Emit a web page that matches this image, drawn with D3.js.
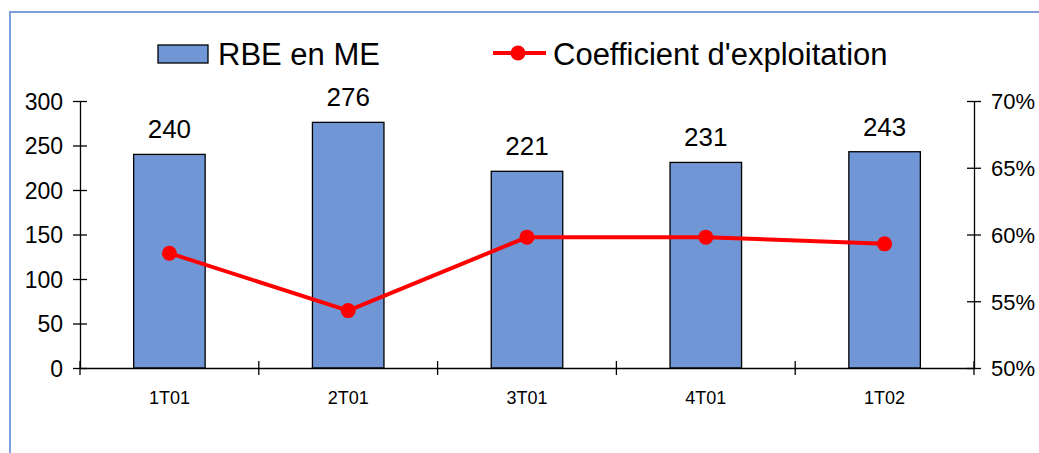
<!DOCTYPE html>
<html><head><meta charset="utf-8">
<script src="https://cdn.jsdelivr.net/npm/d3@7"></script>
<style>body{margin:0;background:#fff;} text{font-family:"Liberation Sans",Arial,sans-serif;}</style>
</head><body><svg id="c" width="1039" height="453"></svg>
<script>
const categories = ["1T01","2T01","3T01","4T01","1T02"];
const rbe = [240,276,221,231,243];
const coef = [58.6,54.3,59.8,59.8,59.3];
const leftTicks = [0,50,100,150,200,250,300];
const rightTicks = [50,55,60,65,70];

const svg = d3.select("#c");
// outer frame
svg.append("path").attr("d","M10,460 L10,12 L1045,12").attr("fill","none").attr("stroke","#7f9fdc").attr("stroke-width",2);

const x0=80, x1=974, yTop=101, yBot=368;
const x = d3.scaleBand().domain(categories).range([x0,x1]);
const yL = d3.scaleLinear().domain([0,300]).range([yBot,yTop]);
const yR = d3.scaleLinear().domain([50,70]).range([yBot,yTop]);
const bw = x.bandwidth()*0.4;

svg.selectAll("rect.bar").data(rbe).enter().append("rect")
  .attr("x",(d,i)=>x(categories[i])+x.bandwidth()/2-bw/2)
  .attr("y",d=>yL(d)).attr("width",bw).attr("height",d=>yBot-yL(d))
  .attr("fill","#7196d5").attr("stroke","#000").attr("stroke-width",1.3);

svg.selectAll("text.lab").data(rbe).enter().append("text")
  .attr("x",(d,i)=>x(categories[i])+x.bandwidth()/2).attr("y",d=>yL(d)-16)
  .attr("text-anchor","middle").attr("font-size",26).text(d=>d);

// axes
const axL = svg.append("g").attr("transform",`translate(${x0},0)`)
  .call(d3.axisLeft(yL).tickValues(leftTicks).tickSize(0).tickPadding(17));
axL.select(".domain").attr("stroke","#000").attr("stroke-width",1.3);
axL.selectAll(".tick text").attr("font-size",23).attr("fill","#000").attr("dy","0.36em");
axL.selectAll(".tick").append("line").attr("x1",-7).attr("x2",7).attr("stroke","#000").attr("stroke-width",1.3);

const axR = svg.append("g").attr("transform",`translate(${x1},0)`)
  .call(d3.axisRight(yR).tickValues(rightTicks).tickSize(0).tickPadding(17).tickFormat(d=>d+"%"));
axR.select(".domain").attr("stroke","#000").attr("stroke-width",1.3);
axR.selectAll(".tick text").attr("font-size",22).attr("fill","#000").attr("dy","0.36em");
axR.selectAll(".tick").append("line").attr("x1",-7).attr("x2",7).attr("stroke","#000").attr("stroke-width",1.3);

const axB = svg.append("g").attr("transform",`translate(0,${yBot})`)
  .call(d3.axisBottom(x).tickSize(0).tickPadding(23));
axB.select(".domain").attr("stroke","#000").attr("stroke-width",1.3);
axB.selectAll(".tick text").attr("font-size",18).attr("fill","#000");
const bounds = categories.map(c=>x(c)).concat([x1]);
axB.selectAll("line.sep").data(bounds).enter().append("line")
  .attr("x1",d=>d).attr("x2",d=>d).attr("y1",-7).attr("y2",7).attr("stroke","#000").attr("stroke-width",1.3);

// line
const line = d3.line().x((d,i)=>x(categories[i])+x.bandwidth()/2).y(d=>yR(d));
svg.append("path").datum(coef).attr("d",line).attr("fill","none").attr("stroke","#ff0000").attr("stroke-width",4);
svg.selectAll("circle.pt").data(coef).enter().append("circle")
  .attr("cx",(d,i)=>x(categories[i])+x.bandwidth()/2).attr("cy",d=>yR(d)).attr("r",7.5).attr("fill","#ff0000");

// legend
svg.append("rect").attr("x",158).attr("y",45).attr("width",50).attr("height",18)
  .attr("fill","#7196d5").attr("stroke","#000").attr("stroke-width",1.3);
svg.append("text").attr("x",218).attr("y",65).attr("font-size",31).text("RBE en ME");
svg.append("line").attr("x1",493).attr("x2",546).attr("y1",53).attr("y2",53).attr("stroke","#ff0000").attr("stroke-width",4);
svg.append("circle").attr("cx",518).attr("cy",53).attr("r",7.5).attr("fill","#ff0000");
svg.append("text").attr("x",553).attr("y",65).attr("font-size",31).text("Coefficient d'exploitation");
</script></body></html>
